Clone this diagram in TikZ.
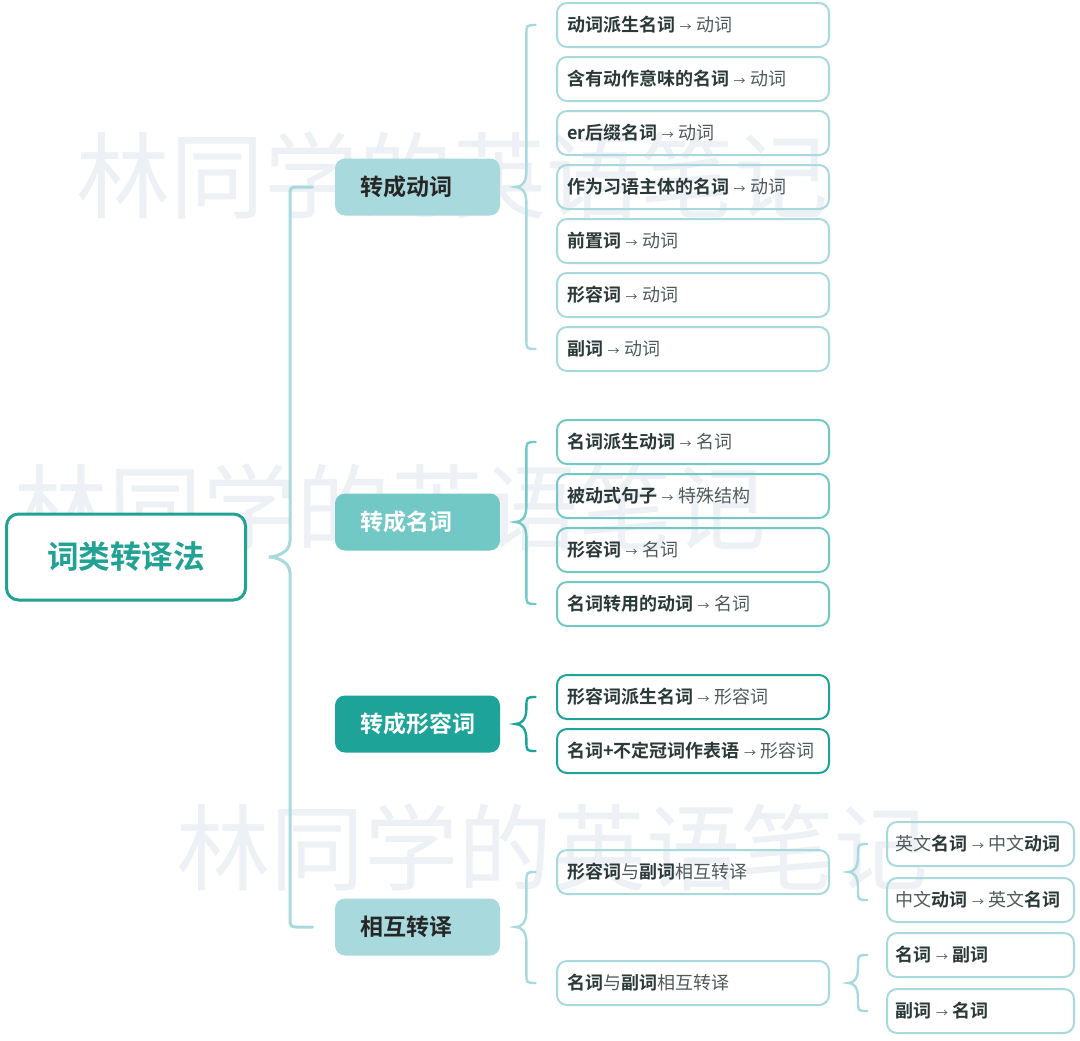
\documentclass[tikz,border=0pt]{standalone}
\usepackage{fontspec}
\setmainfont{Noto Sans CJK SC}[BoldFont={Noto Sans CJK SC Bold}]
\usetikzlibrary{calc}

\definecolor{lineteal}{HTML}{A8D9DD}
\definecolor{midteal}{HTML}{72C8C5}
\definecolor{darkteal}{HTML}{1DA398}
\definecolor{rootteal}{HTML}{22A195}
\definecolor{leaftext}{HTML}{2A3838}
\definecolor{softtext}{HTML}{50595A}
\definecolor{wmgray}{HTML}{EDF0F4}

\newcommand\kw[1]{\textcolor{leaftext}{\bfseries #1}}
\newcommand\toarr{\hspace{0.25em}{\fontsize{6}{6}\selectfont →}\hspace{0.25em}}
% style, parent, first child, last child, tip gap, bar gap, end gap
\newcommand\mmbrace[7]{%
  \draw[#1] let \p1 = (#2.east), \p2 = (#3.west), \p3 = (#4.west) in
    ({\x2-#7},\y2) -- ({\x1+#6+5pt},\y2) .. controls ({\x1+#6},\y2) .. ({\x1+#6},{\y2-5pt})
    -- ({\x1+#6},{\y1+8pt}) .. controls ({\x1+#6},{\y1+2pt}) and ({\x1+#5+3pt},\y1) .. ({\x1+#5},\y1)
    .. controls ({\x1+#5+3pt},\y1) and ({\x1+#6},{\y1-2pt}) .. ({\x1+#6},{\y1-8pt})
    -- ({\x1+#6},{\y3+5pt}) .. controls ({\x1+#6},\y3) .. ({\x1+#6+5pt},\y3) -- ({\x3-#7},\y3);
}

\tikzset{
  root/.style = {draw = rootteal, line width = 1.5pt, rounded corners = 6pt, fill = white,
    minimum width = 119.5pt, minimum height = 43pt, text = rootteal,
    font = \fontsize{15.8}{18}\selectfont\bfseries},
  cat/.style = {rounded corners = 5pt, minimum height = 28.5pt, text width = 57.5pt,
    inner xsep = 12.5pt, align = left, font = \fontsize{11.5}{14}\selectfont\bfseries},
  leaf/.style = {draw = lineteal, line width = 1pt, rounded corners = 5pt, text width = 126pt,
    inner xsep = 5pt, inner ysep = 0pt, minimum height = 22pt, align = left, text = softtext,
    font = \fontsize{9}{11}\selectfont},
  subleaf/.style = {leaf, text width = 85pt, inner xsep = 4.25pt},
  link/.style = {draw = lineteal, line width = 1.2pt, line cap = round},
  watermark/.style = {text = wmgray, font = \fontsize{47}{47}\selectfont}
}

\begin{document}
\begin{tikzpicture}[x = 0.5pt, y = -0.5pt]
  \useasboundingbox (0, 0) rectangle (1080, 1040);

  \node[watermark] (wm1) at (452, 175) {林同学的英语笔记};
  \node[watermark] (wm2) at (390, 507) {林同学的英语笔记};
  \node[watermark] (wm3) at (552, 847) {林同学的英语笔记};

  \node[root] (root) at (126, 557) {词类转译法};

  \node[cat, fill = lineteal, text = black!85] (verb) at (417.5, 187) {转成动词};
  \node[cat, fill = midteal, text = white] (noun) at (417.5, 522) {转成名词};
  \node[cat, fill = darkteal, text = white] (adj) at (417.5, 724) {转成形容词};
  \node[cat, fill = lineteal, text = black!85] (mutual) at (417.5, 927) {相互转译};

  \node[leaf] (v1) at (693, 25) {\kw{动词派生名词}\toarr 动词};
  \node[leaf] (v2) at (693, 79) {\kw{含有动作意味的名词}\toarr 动词};
  \node[leaf] (v3) at (693, 133) {\kw{er后缀名词}\toarr 动词};
  \node[leaf] (v4) at (693, 187) {\kw{作为习语主体的名词}\toarr 动词};
  \node[leaf] (v5) at (693, 241) {\kw{前置词}\toarr 动词};
  \node[leaf] (v6) at (693, 295) {\kw{形容词}\toarr 动词};
  \node[leaf] (v7) at (693, 349) {\kw{副词}\toarr 动词};

  \node[leaf, draw = midteal] (n1) at (693, 442) {\kw{名词派生动词}\toarr 名词};
  \node[leaf, draw = midteal] (n2) at (693, 496) {\kw{被动式句子}\toarr 特殊结构};
  \node[leaf, draw = midteal] (n3) at (693, 550) {\kw{形容词}\toarr 名词};
  \node[leaf, draw = midteal] (n4) at (693, 604) {\kw{名词转用的动词}\toarr 名词};

  \node[leaf, draw = darkteal] (a1) at (693, 697) {\kw{形容词派生名词}\toarr 形容词};
  \node[leaf, draw = darkteal] (a2) at (693, 751) {\kw{名词+不定冠词作表语}\toarr 形容词};

  \node[leaf] (m1) at (693, 872) {\kw{形容词}与\kw{副词}相互转译};
  \node[leaf] (m2) at (693, 983) {\kw{名词}与\kw{副词}相互转译};

  \node[subleaf] (s1) at (980.5, 844) {英文\kw{名词}\toarr 中文\kw{动词}};
  \node[subleaf] (s2) at (980.5, 900) {中文\kw{动词}\toarr 英文\kw{名词}};
  \node[subleaf] (s3) at (980.5, 955) {\kw{名词}\toarr \kw{副词}};
  \node[subleaf] (s4) at (980.5, 1011) {\kw{副词}\toarr \kw{名词}};

  \mmbrace{link, line width = 1.5pt}{root}{verb}{mutual}{11pt}{21.5pt}{11pt}
  \mmbrace{link}{verb}{v1}{v7}{7.5pt}{13pt}{11pt}
  \mmbrace{link, draw = midteal}{noun}{n1}{n4}{7.5pt}{13pt}{11pt}
  \mmbrace{link, draw = darkteal}{adj}{a1}{a2}{7.5pt}{13pt}{11pt}
  \mmbrace{link}{mutual}{m1}{m2}{7.5pt}{13pt}{11pt}
  \mmbrace{link}{m1}{s1}{s2}{9pt}{14pt}{10pt}
  \mmbrace{link}{m2}{s3}{s4}{9pt}{14pt}{10pt}
\end{tikzpicture}
\end{document}
